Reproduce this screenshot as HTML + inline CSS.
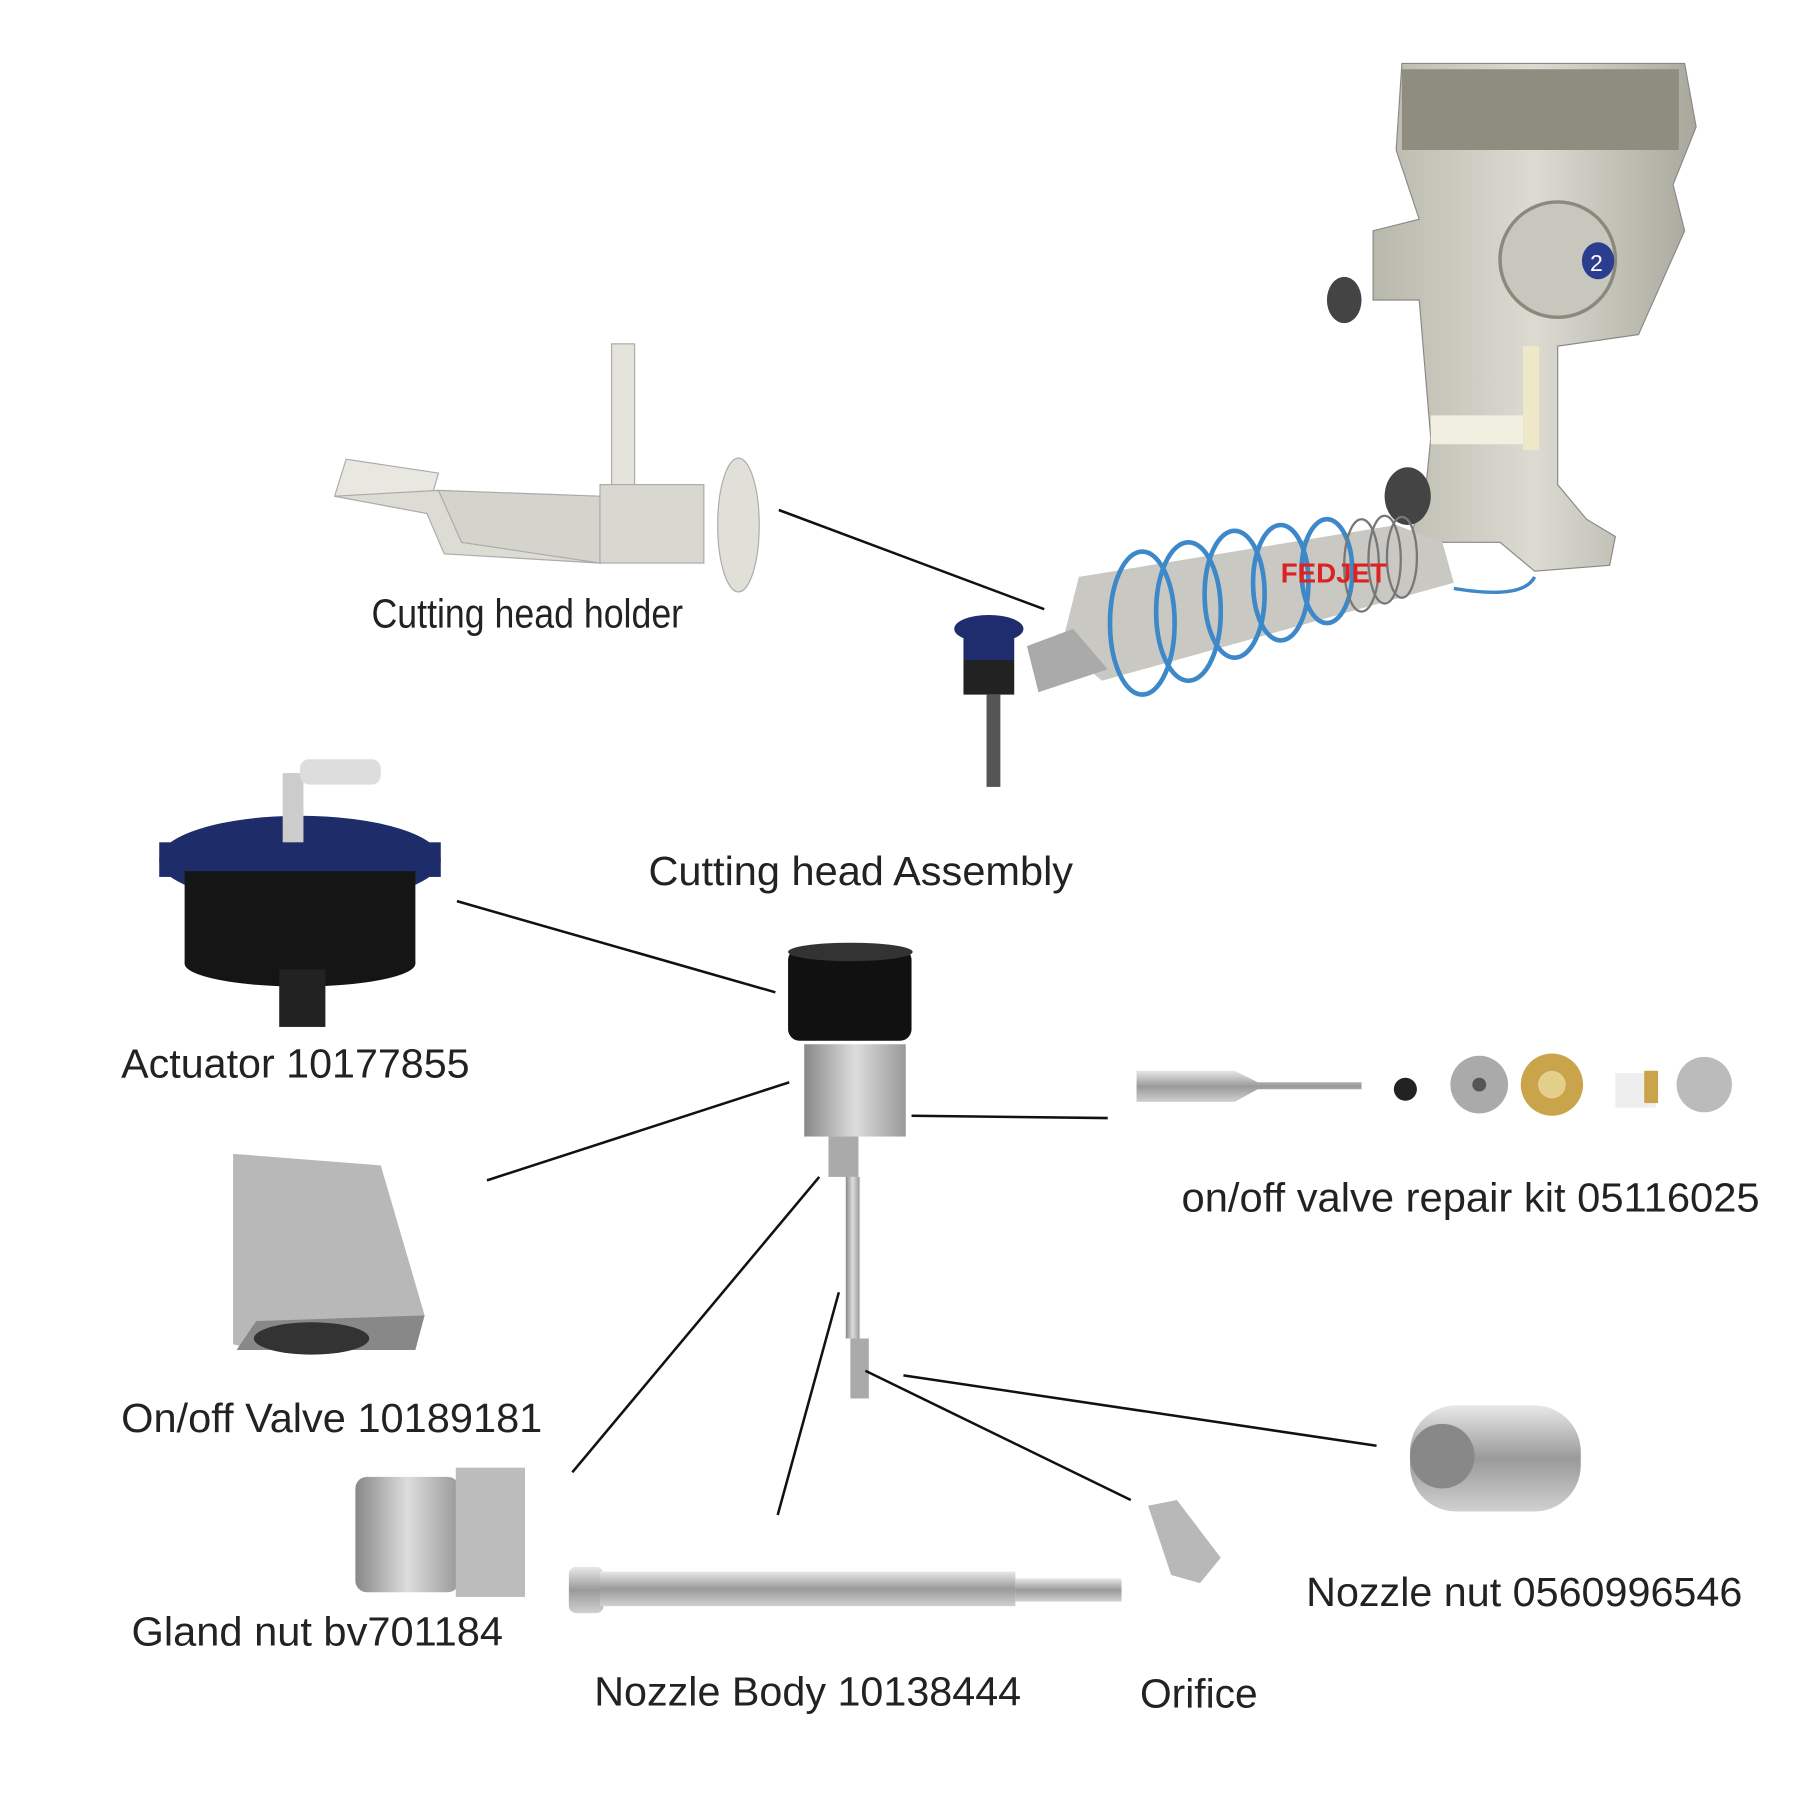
<!DOCTYPE html>
<html><head><meta charset="utf-8"><style>
html,body{margin:0;padding:0;background:#fff;}
svg{display:block}
text{font-family:"Liberation Sans",Arial,sans-serif;fill:#222;}
</style></head><body>
<svg width="1800" height="1800" viewBox="0 0 1560 1560" xmlns="http://www.w3.org/2000/svg">
<defs>
<linearGradient id="steel" x1="0" y1="0" x2="0" y2="1"><stop offset="0" stop-color="#e8e8e8"/><stop offset=".5" stop-color="#9a9a9a"/><stop offset="1" stop-color="#d0d0d0"/></linearGradient>
<linearGradient id="steelh" x1="0" y1="0" x2="1" y2="0"><stop offset="0" stop-color="#888"/><stop offset=".5" stop-color="#ddd"/><stop offset="1" stop-color="#999"/></linearGradient>
<linearGradient id="robot" x1="0" y1="0" x2="1" y2="0"><stop offset="0" stop-color="#b9b8ac"/><stop offset=".5" stop-color="#dcdbd2"/><stop offset="1" stop-color="#a9a89c"/></linearGradient>
</defs>
<rect width="1560" height="1560" fill="#fff"/>

<g>
<path d="M1215 55 L1460 55 L1470 110 L1450 160 L1460 200 L1420 290 L1350 300 L1350 420 L1375 450 L1400 465 L1395 490 L1330 495 L1300 470 L1250 470 L1230 490 L1220 470 L1235 430 L1240 380 L1235 320 L1230 260 L1190 260 L1190 200 L1230 190 L1210 130 Z" fill="url(#robot)" stroke="#888"/>
<rect x="1215" y="60" width="240" height="70" fill="#8e8d80"/>
<circle cx="1350" cy="225" r="50" fill="#c8c7bd" stroke="#8a897d" stroke-width="3"/>
<ellipse cx="1385" cy="226" rx="14" ry="16" fill="#2a3d8f"/>
<text x="1378" y="235" font-size="20" style="fill:#fff">2</text>
<rect x="1240" y="360" width="80" height="25" fill="#f1efe0"/>
<rect x="1320" y="300" width="14" height="90" fill="#eee8c8"/>
<ellipse cx="1220" cy="430" rx="20" ry="25" fill="#444"/>
<ellipse cx="1165" cy="260" rx="15" ry="20" fill="#444"/>
<path d="M935 500 L1210 455 L1250 470 L1260 505 L955 590 L920 560 Z" fill="#c9c8c2"/>
<g fill="none" stroke="#3c88c8" stroke-width="4">
<ellipse cx="990" cy="540" rx="28" ry="62"/><ellipse cx="1030" cy="530" rx="28" ry="60"/><ellipse cx="1070" cy="515" rx="26" ry="55"/><ellipse cx="1110" cy="505" rx="24" ry="50"/><ellipse cx="1150" cy="495" rx="22" ry="45"/>
</g>
<g fill="none" stroke="#777" stroke-width="2">
<ellipse cx="1180" cy="490" rx="15" ry="40"/><ellipse cx="1200" cy="485" rx="14" ry="38"/><ellipse cx="1215" cy="483" rx="13" ry="35"/>
</g>
<path d="M1260 510 Q1320 520 1330 500" stroke="#3c88c8" stroke-width="3" fill="none"/>
<text x="1110" y="505" font-size="24" font-weight="bold" style="fill:#d22">FEDJET</text>
<path d="M890 560 L930 545 L960 580 L900 600 Z" fill="#aaa"/>
<ellipse cx="857" cy="545" rx="30" ry="12" fill="#1f2d6e"/>
<rect x="835" y="550" width="44" height="22" fill="#1f2d6e"/>
<rect x="835" y="572" width="44" height="30" fill="#222"/>
<rect x="855" y="602" width="12" height="80" fill="#555"/>
</g>

<g fill="#dcdcd4" stroke="#aaa">
<path d="M300 398 L380 410 L370 445 L290 430 Z" fill="#e8e8e0"/>
<path d="M290 430 L370 445 L385 480 L520 488 L520 470 L400 465 L380 425 Z"/>
<path d="M380 425 L520 430 L520 488 L400 470 Z" fill="#d4d4cc"/>
<rect x="530" y="298" width="20" height="150" fill="#e4e4dc"/>
<rect x="520" y="420" width="90" height="68" fill="#d8d8d0"/>
<ellipse cx="640" cy="455" rx="18" ry="58" fill="#e0e0d8"/>
</g>

<ellipse cx="260" cy="745" rx="122" ry="38" fill="#1e2c6a"/>
<rect x="138" y="730" width="244" height="30" fill="#1e2c6a"/>
<rect x="160" y="755" width="200" height="80" fill="#151515"/>
<ellipse cx="260" cy="835" rx="100" ry="20" fill="#151515"/>
<rect x="242" y="840" width="40" height="50" fill="#222"/>
<rect x="245" y="670" width="18" height="60" fill="#ccc"/>
<rect x="260" y="658" width="70" height="22" rx="8" fill="#ddd"/>

<path d="M202 1000 L330 1010 L368 1140 L222 1170 L202 1165 Z" fill="#b8b8b8"/>
<path d="M222 1145 L368 1140 L360 1170 L205 1170 Z" fill="#888"/>
<ellipse cx="270" cy="1160" rx="50" ry="14" fill="#333"/>

<rect x="683" y="822" width="107" height="80" rx="10" fill="#111"/>
<ellipse cx="737" cy="825" rx="54" ry="8" fill="#333"/>
<rect x="697" y="905" width="88" height="80" fill="url(#steelh)"/>
<rect x="718" y="985" width="26" height="35" fill="#aaa"/>
<rect x="733" y="1020" width="12" height="140" fill="url(#steelh)"/>
<rect x="737" y="1160" width="16" height="52" fill="#aaa"/>

<path d="M985 928 L1070 928 L1090 938 L1180 938 L1180 944 L1090 944 L1070 955 L985 955 Z" fill="url(#steel)"/>
<circle cx="1218" cy="944" r="10" fill="#222"/>
<circle cx="1282" cy="940" r="25" fill="#aaa"/><circle cx="1282" cy="940" r="6" fill="#555"/>
<circle cx="1345" cy="940" r="27" fill="#c9a44a"/><circle cx="1345" cy="940" r="12" fill="#e4cf8a"/>
<rect x="1400" y="930" width="35" height="30" fill="#eee"/><rect x="1425" y="928" width="12" height="28" fill="#c9a44a"/>
<circle cx="1477" cy="940" r="24" fill="#bbb"/>

<rect x="308" y="1280" width="90" height="100" rx="10" fill="url(#steelh)"/>
<rect x="395" y="1272" width="60" height="112" fill="#bcbcbc"/>

<rect x="493" y="1358" width="30" height="40" rx="6" fill="url(#steel)"/>
<rect x="520" y="1362" width="360" height="30" fill="url(#steel)"/>
<rect x="880" y="1368" width="92" height="20" fill="url(#steel)"/>

<path d="M995 1305 L1020 1300 L1058 1350 L1040 1372 L1015 1365 Z" fill="#b8b8b8"/>

<rect x="1222" y="1218" width="148" height="92" rx="40" fill="url(#steel)"/>
<circle cx="1250" cy="1262" r="28" fill="#888"/>

<g stroke="#111" stroke-width="2.2">
<line x1="675" y1="442" x2="905" y2="528"/>
<line x1="396" y1="781" x2="672" y2="860"/>
<line x1="422" y1="1023" x2="684" y2="938"/>
<line x1="790" y1="967" x2="960" y2="969"/>
<line x1="496" y1="1276" x2="710" y2="1020"/>
<line x1="674" y1="1313" x2="727" y2="1120"/>
<line x1="783" y1="1192" x2="1193" y2="1253"/>
<line x1="750" y1="1188" x2="980" y2="1300"/>
</g>

<g font-size="35">
<text x="322" y="544" textLength="270" lengthAdjust="spacingAndGlyphs">Cutting head holder</text>
<text x="562" y="767" textLength="368" lengthAdjust="spacingAndGlyphs">Cutting head Assembly</text>
<text x="105" y="934" textLength="302" lengthAdjust="spacingAndGlyphs">Actuator 10177855</text>
<text x="1024" y="1050" textLength="501" lengthAdjust="spacingAndGlyphs">on/off valve repair kit 05116025</text>
<text x="105" y="1241" textLength="365" lengthAdjust="spacingAndGlyphs">On/off Valve 10189181</text>
<text x="114" y="1426" textLength="322" lengthAdjust="spacingAndGlyphs">Gland nut bv701184</text>
<text x="1132" y="1392" textLength="378" lengthAdjust="spacingAndGlyphs">Nozzle nut 0560996546</text>
<text x="515" y="1478" textLength="370" lengthAdjust="spacingAndGlyphs">Nozzle Body 10138444</text>
<text x="988" y="1480" textLength="102" lengthAdjust="spacingAndGlyphs">Orifice</text>
</g>
</svg>
</body></html>
